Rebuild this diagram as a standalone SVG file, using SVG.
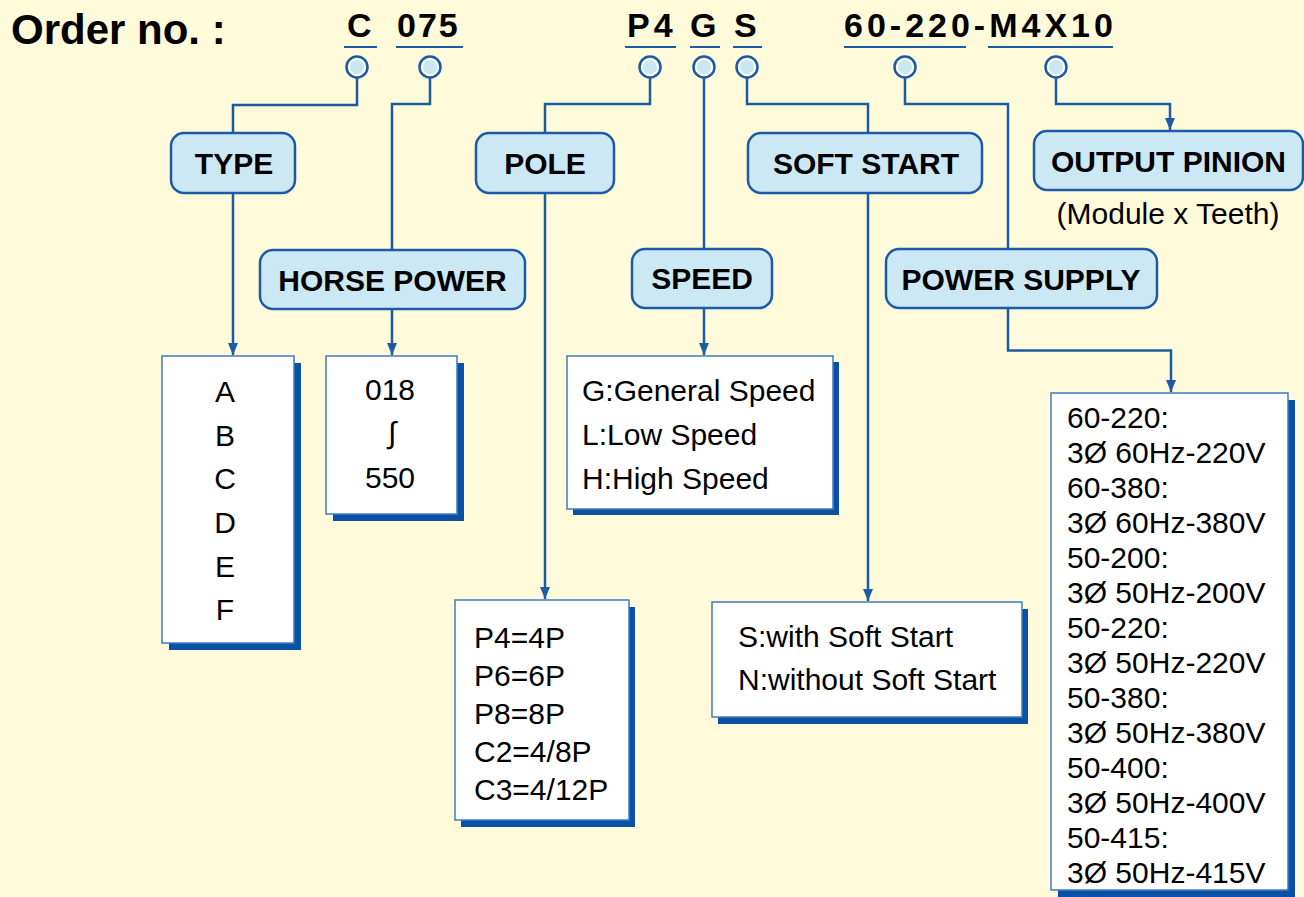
<svg xmlns="http://www.w3.org/2000/svg" width="1304" height="897" viewBox="0 0 1304 897">
<defs>
<style>
.bg{fill:#FFFBDA}
.lbl{fill:#CCE8F4;stroke:#1B5BA6;stroke-width:2.5}
.lt{font-family:"Liberation Sans",Arial,sans-serif;font-weight:bold;font-size:30px;fill:#000;text-anchor:middle}
.box{fill:#FFFFFF;stroke:#3D7CC4;stroke-width:1.5}
.sh{fill:#0A50A5}
.t{font-family:"Liberation Sans",Arial,sans-serif;font-size:30px;fill:#000}
.tc{text-anchor:middle}
.hd{font-family:"Liberation Sans",Arial,sans-serif;font-weight:bold;font-size:34px;fill:#000}
.ul{stroke:#1B5BA6;stroke-width:2;fill:none}
.ln{stroke:#1B5BA6;stroke-width:2.5;fill:none}
.arr{stroke:#1B5BA6;stroke-width:2.5;fill:none;marker-end:url(#ah)}
.co{fill:#FFFFFF;stroke:#1B5BA6;stroke-width:2.5}
.ci{fill:#C9E6F3}
</style>
<marker id="ah" viewBox="0 0 12 10" refX="12" refY="5" markerWidth="12" markerHeight="10" markerUnits="userSpaceOnUse" orient="auto">
<path d="M0,0 L12,5 L0,10 z" fill="#1B5BA6"/>
</marker>
</defs>
<rect class="bg" x="0" y="0" width="1304" height="897"/>

<g id="header">
<text x="11" y="44" font-family="Liberation Sans,Arial,sans-serif" font-weight="bold" font-size="42" fill="#000">Order no. :</text>
<text class="hd" x="347" y="37">C</text>
<text class="hd" x="397" y="37" letter-spacing="2">075</text>
<text class="hd" x="627" y="37" letter-spacing="4">P4</text>
<text class="hd" x="690" y="37">G</text>
<text class="hd" x="734" y="37">S</text>
<text class="hd" x="844" y="37" letter-spacing="4">60-220-M4X10</text>
<line class="ul" x1="344" y1="47" x2="377" y2="47"/>
<line class="ul" x1="396" y1="47" x2="463" y2="47"/>
<line class="ul" x1="625" y1="47" x2="676" y2="47"/>
<line class="ul" x1="690" y1="47" x2="720" y2="47"/>
<line class="ul" x1="733" y1="47" x2="762" y2="47"/>
<line class="ul" x1="844" y1="47" x2="966" y2="47"/>
<line class="ul" x1="988" y1="47" x2="1113" y2="47"/>
</g>

<g id="connectors">
<path class="ln" d="M357,78 V105 H233 V133"/>
<path class="arr" d="M233,193 V355"/>
<path class="ln" d="M430,78 V104 H392 V250"/>
<path class="arr" d="M392,309 V355"/>
<path class="ln" d="M650,78 V104 H545 V133"/>
<path class="arr" d="M545,193 V599"/>
<path class="ln" d="M704,78 V249"/>
<path class="arr" d="M704,308 V355"/>
<path class="ln" d="M747,78 V104 H868 V133"/>
<path class="arr" d="M868,193 V601"/>
<path class="ln" d="M905,78 V104 H1008 V249"/>
<path class="arr" d="M1008,308 V350.5 H1171 V392"/>
<path class="arr" d="M1056,78 V104 H1170 V130"/>
</g>

<g id="dots">
<circle class="co" cx="357" cy="67" r="10.5"/><circle class="ci" cx="357" cy="67" r="7"/>
<circle class="co" cx="430" cy="67" r="10.5"/><circle class="ci" cx="430" cy="67" r="7"/>
<circle class="co" cx="650" cy="67" r="10.5"/><circle class="ci" cx="650" cy="67" r="7"/>
<circle class="co" cx="704" cy="67" r="10.5"/><circle class="ci" cx="704" cy="67" r="7"/>
<circle class="co" cx="747" cy="67" r="10.5"/><circle class="ci" cx="747" cy="67" r="7"/>
<circle class="co" cx="905" cy="67" r="10.5"/><circle class="ci" cx="905" cy="67" r="7"/>
<circle class="co" cx="1056" cy="67" r="10.5"/><circle class="ci" cx="1056" cy="67" r="7"/>
</g>

<g id="type">
<rect class="lbl" x="171" y="133" width="124" height="60" rx="13"/>
<text class="lt" x="234" y="174">TYPE</text>
</g>
<g id="horse-power">
<rect class="lbl" x="260" y="250" width="265" height="59" rx="13"/>
<text class="lt" x="392.5" y="291">HORSE POWER</text>
</g>
<g id="pole">
<rect class="lbl" x="476" y="133" width="138" height="60" rx="13"/>
<text class="lt" x="545" y="174">POLE</text>
</g>
<g id="speed">
<rect class="lbl" x="632" y="249" width="140" height="59" rx="13"/>
<text class="lt" x="702" y="289">SPEED</text>
</g>
<g id="soft-start">
<rect class="lbl" x="748" y="133" width="234" height="60" rx="13"/>
<text class="lt" x="866" y="174">SOFT START</text>
</g>
<g id="output-pinion">
<rect class="lbl" x="1034" y="131" width="269" height="59" rx="13"/>
<text class="lt" x="1168.5" y="172">OUTPUT PINION</text>
<text class="t tc" x="1168" y="224" font-size="29">(Module x Teeth)</text>
</g>
<g id="power-supply">
<rect class="lbl" x="886" y="249" width="271" height="59" rx="13"/>
<text class="lt" x="1021" y="290">POWER SUPPLY</text>
</g>

<g id="type-list">
<rect class="sh" x="169" y="363" width="132" height="287"/>
<rect class="box" x="162" y="356" width="132" height="287"/>
<text class="t tc" x="225" y="402">A</text>
<text class="t tc" x="225" y="446">B</text>
<text class="t tc" x="225" y="489">C</text>
<text class="t tc" x="225" y="533">D</text>
<text class="t tc" x="225" y="577">E</text>
<text class="t tc" x="225" y="620">F</text>
</g>
<g id="hp-list">
<rect class="sh" x="333" y="363" width="131" height="158"/>
<rect class="box" x="326" y="356" width="131" height="158"/>
<text class="t tc" x="390" y="400">018</text>
<text class="t tc" x="392" y="443" font-size="26">∫</text>
<text class="t tc" x="390" y="488">550</text>
</g>
<g id="speed-list">
<rect class="sh" x="573" y="362" width="266" height="153"/>
<rect class="box" x="567" y="356" width="266" height="153"/>
<text class="t" x="582" y="401">G:General Speed</text>
<text class="t" x="582" y="445">L:Low Speed</text>
<text class="t" x="582" y="489">H:High Speed</text>
</g>
<g id="pole-list">
<rect class="sh" x="461" y="607" width="174" height="220"/>
<rect class="box" x="455" y="600" width="174" height="220"/>
<text class="t" x="474" y="648">P4=4P</text>
<text class="t" x="474" y="686">P6=6P</text>
<text class="t" x="474" y="724">P8=8P</text>
<text class="t" x="474" y="762">C2=4/8P</text>
<text class="t" x="474" y="800">C3=4/12P</text>
</g>
<g id="soft-list">
<rect class="sh" x="718" y="609" width="310" height="115"/>
<rect class="box" x="712" y="602" width="310" height="115"/>
<text class="t" x="738" y="647">S:with Soft Start</text>
<text class="t" x="738" y="690">N:without Soft Start</text>
</g>
<g id="power-list">
<rect class="sh" x="1058" y="400" width="237" height="497"/>
<rect class="box" x="1051" y="393" width="237" height="497"/>
<text class="t" x="1067" y="428">60-220:</text>
<text class="t" x="1067" y="463">3Ø 60Hz-220V</text>
<text class="t" x="1067" y="498">60-380:</text>
<text class="t" x="1067" y="533">3Ø 60Hz-380V</text>
<text class="t" x="1067" y="568">50-200:</text>
<text class="t" x="1067" y="603">3Ø 50Hz-200V</text>
<text class="t" x="1067" y="638">50-220:</text>
<text class="t" x="1067" y="673">3Ø 50Hz-220V</text>
<text class="t" x="1067" y="708">50-380:</text>
<text class="t" x="1067" y="743">3Ø 50Hz-380V</text>
<text class="t" x="1067" y="778">50-400:</text>
<text class="t" x="1067" y="813">3Ø 50Hz-400V</text>
<text class="t" x="1067" y="848">50-415:</text>
<text class="t" x="1067" y="883">3Ø 50Hz-415V</text>
</g>
</svg>
